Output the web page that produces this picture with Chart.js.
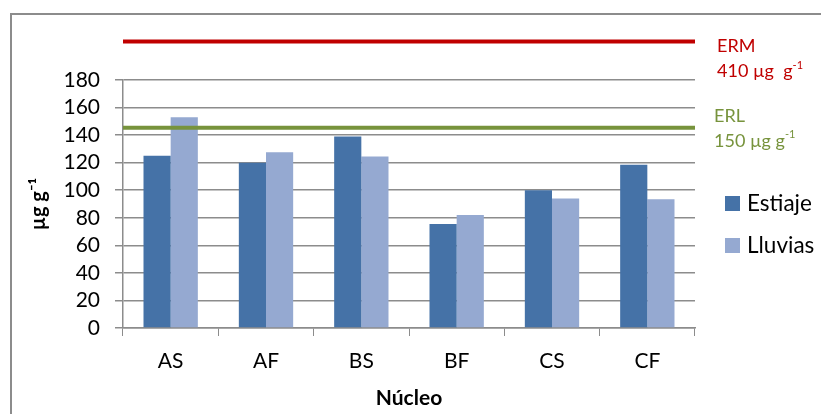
<!DOCTYPE html>
<html lang="es">
<head>
<meta charset="utf-8" />
<title>Núcleo - µg g-1</title>
<script src="https://cdn.jsdelivr.net/npm/chart.js"></script>
<style>
  html, body { margin: 0; padding: 0; background: #fff; }
  .wrap { position: relative; width: 821px; height: 414px; overflow: hidden; }
  .frame { position: absolute; left: 10px; top: 13px; width: 900px; height: 500px;
           border-left: 2px solid #8c8c8c; border-top: 2px solid #8c8c8c; }
  canvas { position: absolute; left: 0; top: 0; }
</style>
</head>
<body>
<div class="wrap">
  <div class="frame"></div>
  <canvas id="chart" width="821" height="414"></canvas>
</div>
<script>
  // data
  const nucleos = ['AS', 'AF', 'BS', 'BF', 'CS', 'CF'];
  const estiaje = [125, 120, 139, 75.5, 100, 118.5];
  const lluvias = [153, 127.5, 124.5, 82, 94, 93.5];
  const yTicks = [0, 20, 40, 60, 80, 100, 120, 140, 160, 180];

  // reference levels (drawn position on the axis, label text)
  const ermLine = 208;
  const erlLine = 145.3;

  const FONT = 'Lato, "Open Sans", sans-serif';

  // horizontal ERM / ERL lines plus their labels and the legend on the right
  const guidePlugin = {
    id: 'guides',
    afterDatasetsDraw(chart) {
      const ctx = chart.ctx;
      const area = chart.chartArea;
      const y = chart.scales.y;

      function hline(v, color) {
        const py = y.getPixelForValue(v);
        ctx.save();
        ctx.strokeStyle = color;
        ctx.lineWidth = 4;
        ctx.beginPath();
        ctx.moveTo(area.left, py);
        ctx.lineTo(area.right, py);
        ctx.stroke();
        ctx.restore();
        return py;
      }

      function supText(x, yy, main, sup, color, size) {
        ctx.save();
        ctx.fillStyle = color;
        ctx.textBaseline = 'middle';
        ctx.textAlign = 'left';
        ctx.font = size + 'px ' + FONT;
        ctx.fillText(main, x, yy);
        const w = ctx.measureText(main).width;
        if (sup) {
          ctx.font = Math.round(size * 0.62) + 'px ' + FONT;
          ctx.fillText(sup, x + w, yy - size * 0.35);
        }
        ctx.restore();
      }

      const ermY = hline(ermLine, '#C00000');
      const erlY = hline(erlLine, '#77933C');

      const tx = area.right + 22;
      supText(tx, ermY + 5, 'ERM', '', '#C00000', 18);
      supText(tx, ermY + 30, '410 µg  g', '-1', '#C00000', 18);
      supText(tx - 3, erlY - 12, 'ERL', '', '#77933C', 18);
      supText(tx - 3, erlY + 13, '150 µg g', '-1', '#77933C', 18);

      // legend
      const items = chart.data.datasets;
      items.forEach((ds, i) => {
        const cy = 203 + i * 42;
        ctx.save();
        ctx.fillStyle = ds.backgroundColor;
        ctx.fillRect(area.right + 30, cy - 7, 15, 15);
        ctx.fillStyle = '#000';
        ctx.font = '22.5px ' + FONT;
        ctx.textBaseline = 'middle';
        ctx.fillText(ds.label, area.right + 52, cy + 1);
        ctx.restore();
      });
    }
  };

  new Chart(document.getElementById('chart'), {
    type: 'bar',
    data: {
      labels: nucleos,
      datasets: [
        { label: 'Estiaje', data: estiaje, backgroundColor: '#4572A7' },
        { label: 'Lluvias', data: lluvias, backgroundColor: '#95A9D1' }
      ]
    },
    options: {
      responsive: false,
      animation: false,
      layout: { padding: { top: 80, right: 126, left: 0, bottom: 0 } },
      datasets: { bar: { categoryPercentage: 0.57, barPercentage: 1 } },
      plugins: {
        legend: { display: false },
        tooltip: { enabled: false }
      },
      scales: {
        x: {
          afterFit(s) { s.height = 86; },
          grid: { display: true, drawOnChartArea: false, drawTicks: true, tickLength: 8, color: '#8c8c8c', offset: true },
          border: { display: true, color: '#8c8c8c', width: 1.5 },
          ticks: { color: '#000', font: { family: FONT, size: 21 }, padding: 13, autoSkip: false },
          title: { display: true, text: 'Núcleo', color: '#000', font: { family: FONT, size: 21, weight: 'bold' }, padding: { top: 0, bottom: 3 } }
        },
        y: {
          min: 0,
          max: 180,
          afterFit(s) { s.width = 123; },
          afterBuildTicks(s) { s.ticks = yTicks.map(v => ({ value: v })); },
          grid: { color: '#8c8c8c', lineWidth: 1.5, tickLength: 8 },
          border: { display: true, color: '#8c8c8c', width: 1.5 },
          ticks: { color: '#000', font: { family: FONT, size: 21 }, padding: 15, autoSkip: false },
          title: { display: true, text: 'µg g⁻¹', color: '#000', font: { family: FONT, size: 20, weight: 'bold' }, padding: { top: 27, bottom: 0 } }
        }
      }
    },
    plugins: [guidePlugin]
  });
</script>
</body>
</html>
